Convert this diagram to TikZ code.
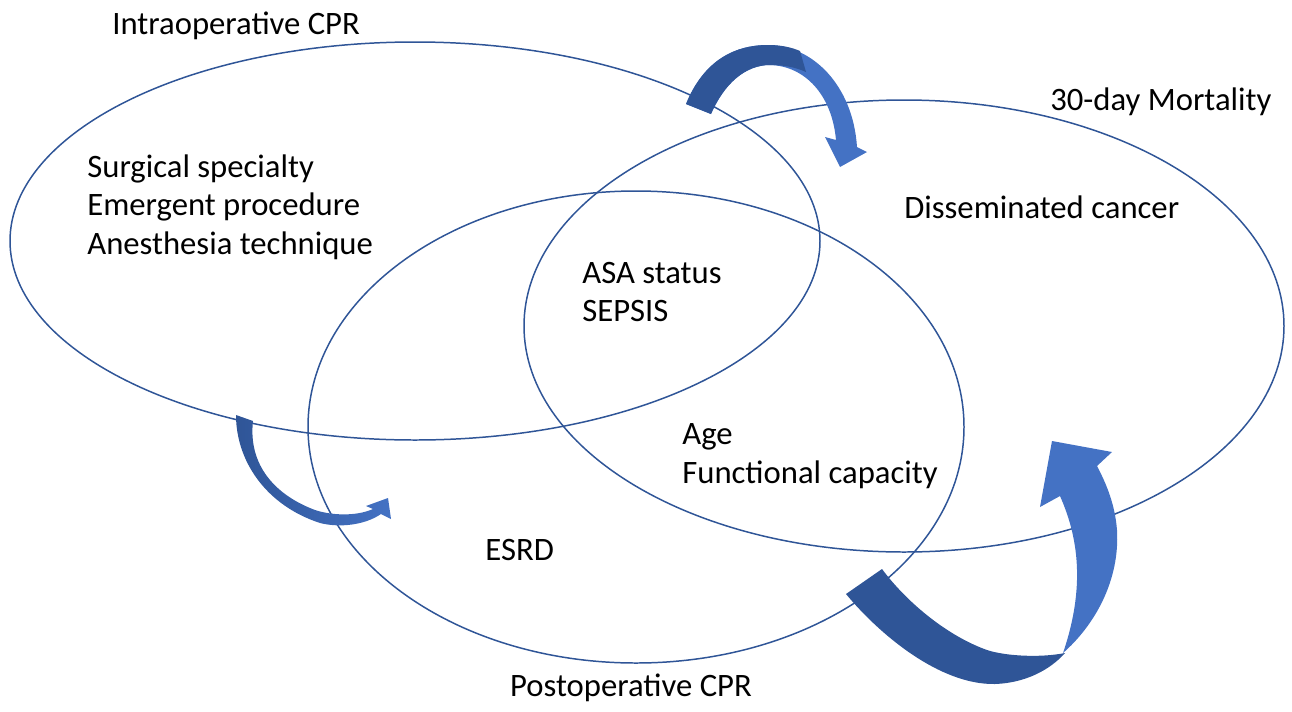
\documentclass[tikz,border=0pt]{standalone}
\usepackage{fontspec}
\setmainfont{Carlito}
\definecolor{vennline}{RGB}{47,85,151}
\definecolor{adark}{RGB}{47,85,151}
\definecolor{alight}{RGB}{68,114,196}

\begin{document}
\begin{tikzpicture}[x=0.02cm,y=-0.02cm,
  venn/.style={draw=vennline, line width=0.85pt},
  lbl/.style={inner sep=0pt, anchor=west, align=left, font=\fontsize{18.6}{21.8}\selectfont}]

\useasboundingbox (0,0) rectangle (1292,711);

\draw[venn] (415,241) ellipse [x radius=405, y radius=199]; % intraoperative
\draw[venn] (904,326) ellipse [x radius=380, y radius=226]; % 30 giorni
\draw[venn] (636,427) ellipse [x radius=328, y radius=236]; % postoperative

\node[lbl] (intra) at (112,26) {Intraoperative CPR};
\node[lbl] (mort) at (1050,102) {30-day Mortality};
\node[lbl] (intrafac) at (87,207) {Surgical specialty\\Emergent procedure\\Anesthesia technique};
\node[lbl] (mortfac) at (904,207) {Disseminated cancer};
\node[lbl] (core) at (582,292) {ASA status\\SEPSIS};
\node[lbl] (mpfac) at (682,456) {Age\\Functional capacity};
\node[lbl] (postfac) at (485,550) {ESRD};
\node[lbl,anchor=center] (post) at (631,688) {Postoperative CPR};

% freccia in alto
\fill[alight] (686,104) .. controls (704,60) and (735,45) .. (768,45)
  .. controls (812,45) and (853,85) .. (857,147) -- (867,152) -- (840,167)
  -- (825,137) -- (836,140) .. controls (832,95) and (805,66) .. (770,65)
  .. controls (745,65) and (724,84) .. (711,114) -- cycle;
\fill[adark] (686,104) .. controls (704,60) and (735,45) .. (768,45)
  .. controls (780,45) and (791,47) .. (800,51) -- (806,72)
  .. controls (795,67) and (783,65) .. (770,65)
  .. controls (745,65) and (724,84) .. (711,114) -- cycle;

% freccia a sinistra
\shade[left color=adark, right color=alight] (236,415)
  .. controls (236,460) and (265,505) .. (320,523)
  .. controls (340,528) and (365,525) .. (381,514) -- (391,519) -- (388,498)
  -- (366,506) -- (373,509) .. controls (355,517) and (330,515) .. (315,510)
  .. controls (275,495) and (248,465) .. (253,421) -- cycle;

% freccia in basso
\fill[adark] (882,569) -- (846,594) .. controls (880,635) and (940,685) .. (995,684)
  .. controls (1025,683) and (1050,670) .. (1065,653)
  .. controls (1040,658) and (1005,656) .. (987,650)
  .. controls (945,635) and (905,600) .. (882,569) -- cycle;
\fill[alight] (1063,653) .. controls (1095,625) and (1120,580) .. (1117,530)
  .. controls (1115,505) and (1107,485) .. (1097,466) -- (1112,452) -- (1052,441)
  -- (1040,507) -- (1060,496) .. controls (1075,530) and (1088,580) .. (1063,653) -- cycle;

\end{tikzpicture}
\end{document}
